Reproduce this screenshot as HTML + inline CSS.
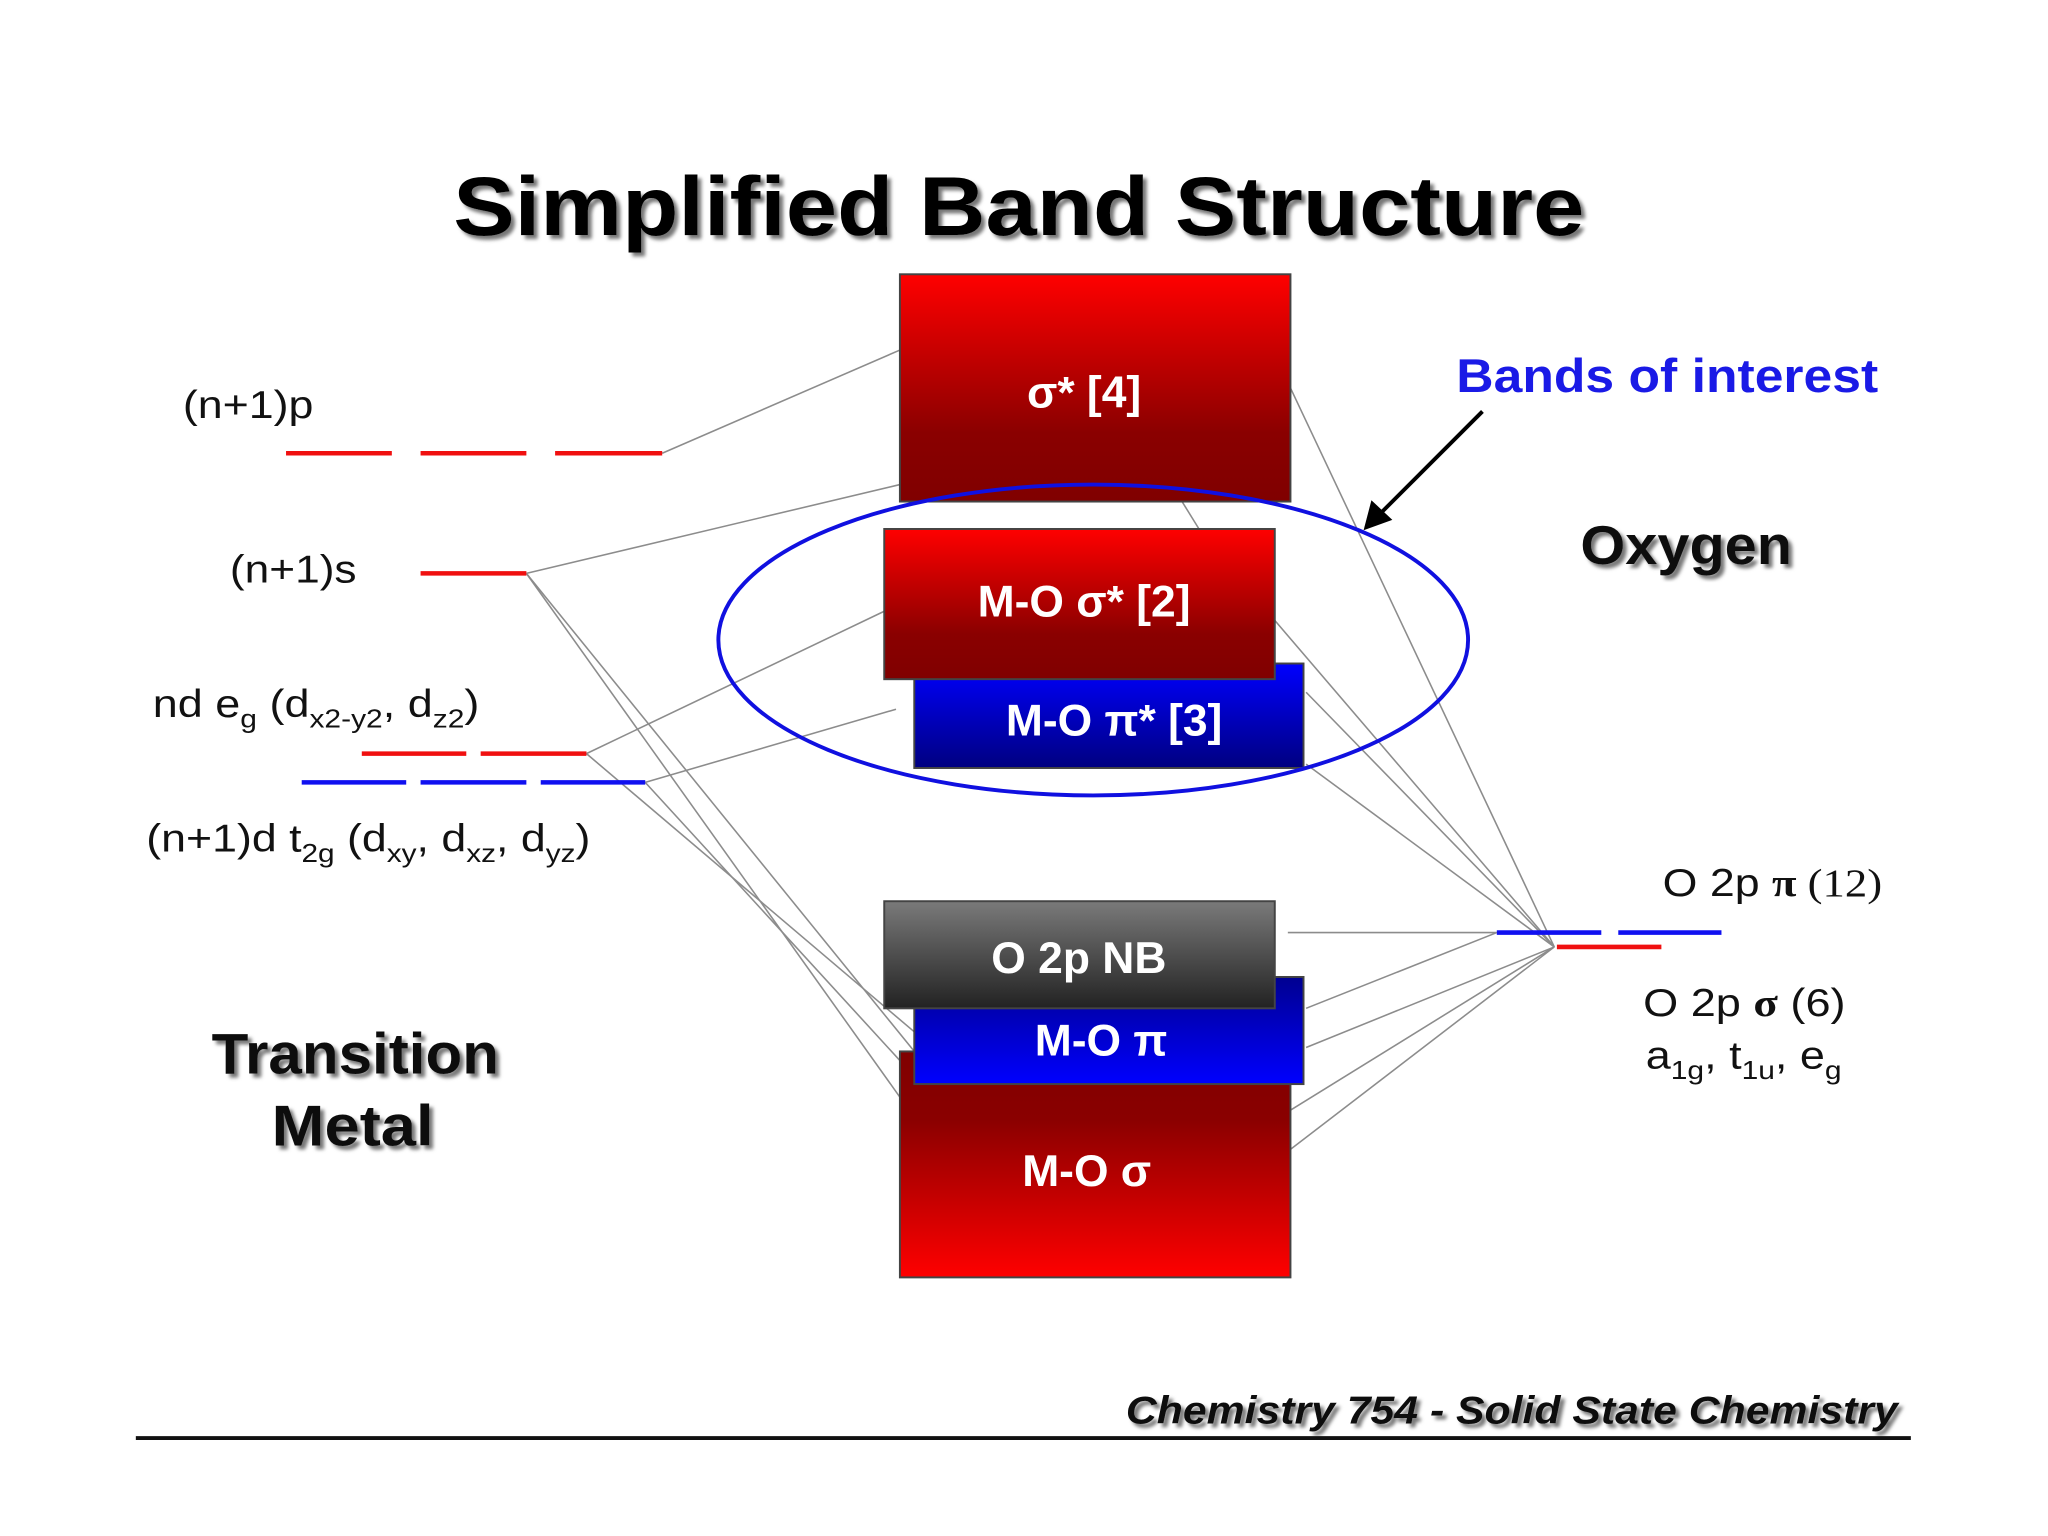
<!DOCTYPE html>
<html><head><meta charset="utf-8"><style>
html,body{margin:0;padding:0;background:#fff;}
svg{display:block;}
text{font-family:"Liberation Sans",sans-serif;}
</style></head><body>
<svg width="2048" height="1536" viewBox="0 0 1568 1176" preserveAspectRatio="none" xmlns="http://www.w3.org/2000/svg">
<defs>
<linearGradient id="rd" x1="0" y1="0" x2="0" y2="1"><stop offset="0" stop-color="#ff0000"/><stop offset="0.7" stop-color="#8a0000"/><stop offset="1" stop-color="#800000"/></linearGradient>
<linearGradient id="ru" x1="0" y1="0" x2="0" y2="1"><stop offset="0" stop-color="#800000"/><stop offset="0.3" stop-color="#8a0000"/><stop offset="1" stop-color="#ff0000"/></linearGradient>
<linearGradient id="bd" x1="0" y1="0" x2="0" y2="1"><stop offset="0" stop-color="#0000ff"/><stop offset="1" stop-color="#000080"/></linearGradient>
<linearGradient id="bu" x1="0" y1="0" x2="0" y2="1"><stop offset="0" stop-color="#000090"/><stop offset="1" stop-color="#0000ff"/></linearGradient>
<linearGradient id="gr" x1="0" y1="0" x2="0" y2="1"><stop offset="0" stop-color="#7a7a7a"/><stop offset="1" stop-color="#222"/></linearGradient>
<filter id="sh"><feDropShadow dx="3" dy="3" stdDeviation="1.5" flood-color="#777"/></filter>
</defs>
<rect width="1568" height="1176" fill="#fff"/>
<text x="780" y="180" text-anchor="middle" font-size="64" font-weight="bold" textLength="866" lengthAdjust="spacingAndGlyphs" filter="url(#sh)">Simplified Band Structure</text>

<g stroke="#8c8c8c" stroke-width="1.2" fill="none">
<line x1="507" y1="347" x2="689" y2="268"/>
<line x1="403" y1="439" x2="689" y2="371"/>
<line x1="403" y1="439" x2="700" y2="805"/>
<line x1="403" y1="439" x2="689" y2="840"/>
<line x1="449" y1="577" x2="677" y2="468"/>
<line x1="449" y1="577" x2="700" y2="790"/>
<line x1="494" y1="599" x2="686" y2="543"/>
<line x1="494" y1="599" x2="689" y2="812"/>
<line x1="905" y1="384" x2="918" y2="405"/>
<line x1="1146" y1="714" x2="986" y2="714"/>
<line x1="1146" y1="714" x2="1000" y2="772"/>
<line x1="1190" y1="725" x2="1000" y2="802"/>
<line x1="1190" y1="725" x2="988" y2="850"/>
<line x1="1190" y1="725" x2="988" y2="880"/>
<line x1="1190" y1="725" x2="988" y2="297"/>
<line x1="1190" y1="725" x2="976" y2="475"/>
<line x1="1190" y1="725" x2="1000" y2="530"/>
<line x1="1190" y1="725" x2="1000" y2="585"/>
</g>

<rect x="689" y="210" width="299" height="174" fill="url(#rd)" stroke="#444" stroke-width="1.5"/>
<rect x="700" y="508" width="298" height="80" fill="url(#bd)" stroke="#444" stroke-width="1.5"/>
<rect x="677" y="405" width="299" height="115" fill="url(#rd)" stroke="#444" stroke-width="1.5"/>
<rect x="689" y="805" width="299" height="173" fill="url(#ru)" stroke="#444" stroke-width="1.5"/>
<rect x="700" y="748" width="298" height="82" fill="url(#bu)" stroke="#444" stroke-width="1.5"/>
<rect x="677" y="690" width="299" height="82" fill="url(#gr)" stroke="#444" stroke-width="1.5"/>

<g fill="#fff" font-weight="bold" font-size="34" text-anchor="middle">
<text x="830" y="312">σ* [4]</text>
<text x="830" y="472">M-O σ* [2]</text>
<text x="853" y="563">M-O π* [3]</text>
<text x="826" y="745">O 2p NB</text>
<text x="843" y="808">M-O π</text>
<text x="832" y="908">M-O σ</text>
</g>

<ellipse cx="837" cy="490" rx="287" ry="119" fill="none" stroke="#1010e0" stroke-width="3"/>
<line x1="1135" y1="315" x2="1055" y2="395" stroke="#000" stroke-width="3"/>
<polygon points="1044,406 1050,383 1066,398" fill="#000"/>

<g stroke-width="3.5">
<g stroke="#f01010">
<line x1="219" y1="347" x2="300" y2="347"/><line x1="322" y1="347" x2="403" y2="347"/><line x1="425" y1="347" x2="507" y2="347"/>
<line x1="322" y1="439" x2="403" y2="439"/>
<line x1="277" y1="577" x2="357" y2="577"/><line x1="368" y1="577" x2="449" y2="577"/>
<line x1="1192" y1="725" x2="1272" y2="725"/>
</g>
<g stroke="#1010f0">
<line x1="231" y1="599" x2="311" y2="599"/><line x1="322" y1="599" x2="403" y2="599"/><line x1="414" y1="599" x2="494" y2="599"/>
<line x1="1146" y1="714" x2="1226" y2="714"/><line x1="1239" y1="714" x2="1318" y2="714"/>
</g>
</g>

<g font-size="30" fill="#111">
<text x="140" y="320" textLength="100" lengthAdjust="spacingAndGlyphs">(n+1)p</text>
<text x="176" y="446" textLength="97" lengthAdjust="spacingAndGlyphs">(n+1)s</text>
<text x="117" y="549" textLength="250" lengthAdjust="spacingAndGlyphs">nd e<tspan font-size="20" dy="8">g</tspan><tspan dy="-8"> (d</tspan><tspan font-size="20" dy="8">x2-y2</tspan><tspan dy="-8">, d</tspan><tspan font-size="20" dy="8">z2</tspan><tspan dy="-8">)</tspan></text>
<text x="112" y="652" textLength="340" lengthAdjust="spacingAndGlyphs">(n+1)d t<tspan font-size="20" dy="8">2g</tspan><tspan dy="-8"> (d</tspan><tspan font-size="20" dy="8">xy</tspan><tspan dy="-8">, d</tspan><tspan font-size="20" dy="8">xz</tspan><tspan dy="-8">, d</tspan><tspan font-size="20" dy="8">yz</tspan><tspan dy="-8">)</tspan></text>
<text x="1273" y="686" textLength="168" lengthAdjust="spacingAndGlyphs">O 2p <tspan font-family="Liberation Serif" font-weight="bold">π</tspan><tspan font-family="Liberation Serif"> (12)</tspan></text>
<text x="1258" y="778" textLength="155" lengthAdjust="spacingAndGlyphs">O 2p <tspan font-family="Liberation Serif" font-weight="bold">σ</tspan> (6)</text>
<text x="1260" y="818" textLength="150" lengthAdjust="spacingAndGlyphs">a<tspan font-size="20" dy="8">1g</tspan><tspan dy="-8">, t</tspan><tspan font-size="20" dy="8">1u</tspan><tspan dy="-8">, e</tspan><tspan font-size="20" dy="8">g</tspan></text>
</g>

<text x="1115" y="300" font-size="36" font-weight="bold" fill="#1a1ae6" textLength="323" lengthAdjust="spacingAndGlyphs">Bands of interest</text>
<text x="1210" y="432" font-size="42" font-weight="bold" fill="#111" textLength="162" lengthAdjust="spacingAndGlyphs" filter="url(#sh)">Oxygen</text>
<text x="272" y="822" font-size="44" font-weight="bold" fill="#111" text-anchor="middle" textLength="220" lengthAdjust="spacingAndGlyphs" filter="url(#sh)">Transition</text>
<text x="270" y="877" font-size="44" font-weight="bold" fill="#111" text-anchor="middle" textLength="124" lengthAdjust="spacingAndGlyphs" filter="url(#sh)">Metal</text>
<text x="862" y="1090" font-size="30" font-weight="bold" font-style="italic" fill="#111" textLength="591" lengthAdjust="spacingAndGlyphs" filter="url(#sh)">Chemistry 754 - Solid State Chemistry</text>
<line x1="104" y1="1101" x2="1463" y2="1101" stroke="#111" stroke-width="3"/>
</svg>
</body></html>
